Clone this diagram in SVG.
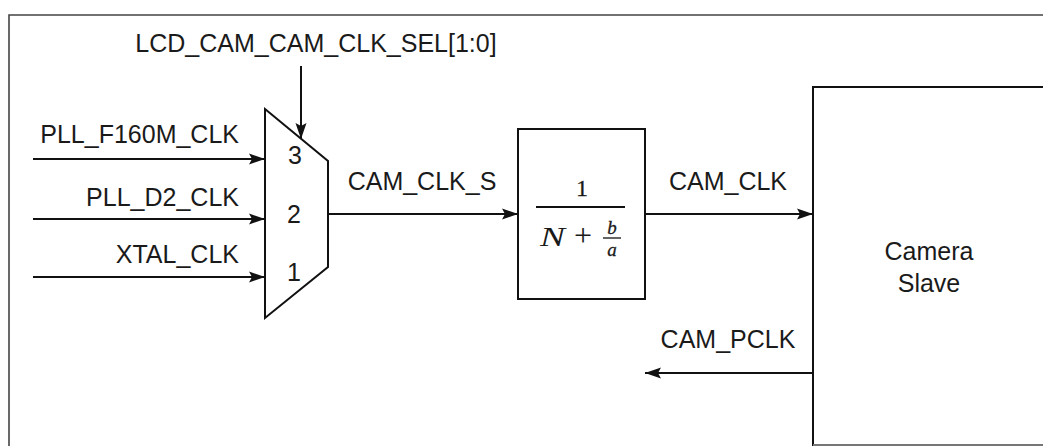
<svg xmlns="http://www.w3.org/2000/svg" width="1043" height="446" viewBox="0 0 1043 446">
<style>
.lbl{font-family:"Liberation Sans",Arial,sans-serif;font-size:25px;fill:#1a1a1a}
.ln{stroke:#111;stroke-width:2;fill:none}
.box{stroke:#111;stroke-width:2;fill:#fff}
.m{font-family:"Liberation Serif","Times New Roman",serif;fill:#1a1a1a;stroke:#1a1a1a;stroke-width:0.3}
.mi{font-style:italic}
</style>
<defs>
<marker id="ah" markerUnits="userSpaceOnUse" markerWidth="18" markerHeight="14" viewBox="0 0 18 14" refX="17" refY="7" orient="auto">
<path d="M1,1.5 L17,7 L1,12.5 L4,7 z" fill="#111"/>
</marker>
</defs>
<rect width="1043" height="446" fill="#fff"/>
<g id="frame">
<path d="M9,446 L9,15 L1043,15" fill="none" stroke="#444" stroke-width="1.6"/>
</g>
<g id="connectors">
<line class="ln" x1="301" y1="66" x2="301" y2="139" marker-end="url(#ah)"/>
<line class="ln" x1="33" y1="159" x2="265" y2="159" marker-end="url(#ah)"/>
<line class="ln" x1="33" y1="219" x2="265" y2="219" marker-end="url(#ah)"/>
<line class="ln" x1="33" y1="277" x2="265" y2="277" marker-end="url(#ah)"/>
<line class="ln" x1="328" y1="214" x2="518" y2="214" marker-end="url(#ah)"/>
<line class="ln" x1="645" y1="214" x2="813" y2="214" marker-end="url(#ah)"/>
<line class="ln" x1="813" y1="373" x2="645" y2="373" marker-end="url(#ah)"/>
</g>
<g id="labels">
<text class="lbl" x="316" y="52" text-anchor="middle">LCD_CAM_CAM_CLK_SEL[1:0]</text>
<text class="lbl" x="239" y="143" text-anchor="end">PLL_F160M_CLK</text>
<text class="lbl" x="239" y="206" text-anchor="end">PLL_D2_CLK</text>
<text class="lbl" x="239" y="263" text-anchor="end">XTAL_CLK</text>
<text class="lbl" x="422" y="190" text-anchor="middle">CAM_CLK_S</text>
<text class="lbl" x="728" y="190" text-anchor="middle">CAM_CLK</text>
<text class="lbl" x="728" y="348" text-anchor="middle">CAM_PCLK</text>
</g>
<g id="mux">
<path class="box" d="M265,109 L328,161 L328,267 L265,318 Z"/>
<text class="lbl" x="295" y="164" text-anchor="middle">3</text>
<text class="lbl" x="294" y="223" text-anchor="middle">2</text>
<text class="lbl" x="294" y="281" text-anchor="middle">1</text>
</g>
<g id="divider">
<rect class="box" x="518" y="129" width="127" height="170"/>
<text class="m" x="582" y="196" text-anchor="middle" style="font-size:24px">1</text>
<line x1="536" y1="207" x2="625" y2="207" stroke="#111" stroke-width="1.8"/>
<text class="m mi" x="540" y="245.5" style="font-size:28px;stroke-width:0" textLength="25" lengthAdjust="spacingAndGlyphs">N</text>
<text class="m" x="583" y="246" text-anchor="middle" style="font-size:32px;stroke-width:0">+</text>
<text class="m mi" x="612" y="234" text-anchor="middle" style="font-size:19px">b</text>
<line x1="603" y1="238" x2="621" y2="238" stroke="#111" stroke-width="1.3"/>
<text class="m mi" x="612" y="256" text-anchor="middle" style="font-size:19px">a</text>
</g>
<g id="camera">
<path class="box" d="M1045,87 L813,87 L813,445 L1045,445"/>
<line x1="813" y1="445" x2="1043" y2="445" stroke="#999" stroke-width="1.5"/>
<text class="lbl" x="929" y="260" text-anchor="middle">Camera</text>
<text class="lbl" x="929" y="292" text-anchor="middle">Slave</text>
</g>
</svg>
